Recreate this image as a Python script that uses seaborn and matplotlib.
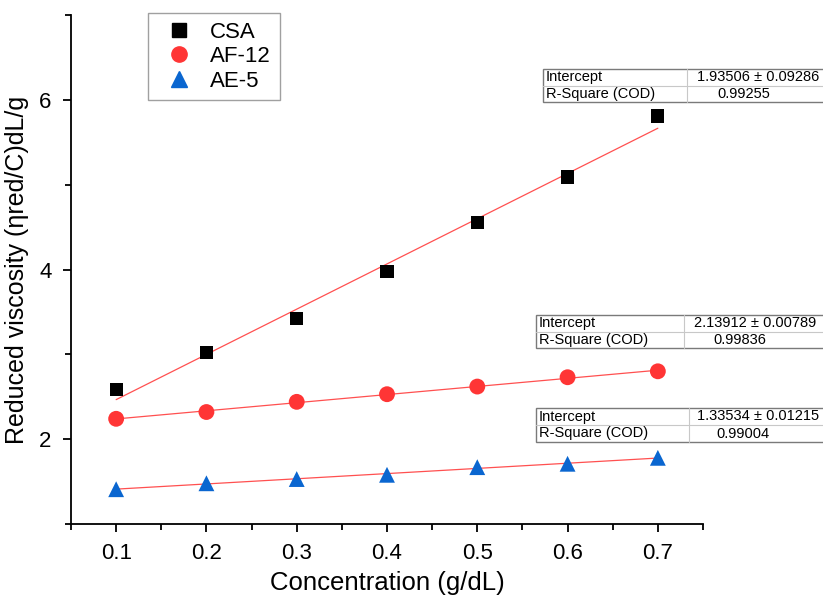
import numpy as np
import pandas as pd
import matplotlib
matplotlib.use("Agg")
import matplotlib.pyplot as plt
import seaborn as sns
from matplotlib.patches import Rectangle
from matplotlib.lines import Line2D

# Data
conc = [0.1, 0.2, 0.3, 0.4, 0.5, 0.6, 0.7]
csa = [2.59, 3.02, 3.42, 3.98, 4.55, 5.09, 5.81]
af12 = [2.24, 2.32, 2.44, 2.53, 2.62, 2.73, 2.80]
ae5 = [1.41, 1.48, 1.53, 1.58, 1.67, 1.71, 1.78]

series_names = ['CSA', 'AF-12', 'AE-5']
series_values = [csa, af12, ae5]
series_colors = ['#000000', '#ff3535', '#0a66d0']
series_markers = ['s', 'o', '^']
marker_sizes = [90, 130, 130]

x_ticks = [0.1, 0.2, 0.3, 0.4, 0.5, 0.6, 0.7]
y_ticks = [2, 4, 6]

# fit tables (Origin style)
table_labels = ['Intercept', 'R-Square (COD)']
table_values = [['1.93506 ± 0.09286', '0.99255'],
                ['2.13912 ± 0.00789', '0.99836'],
                ['1.33534 ± 0.01215', '0.99004']]

df = pd.DataFrame({
    'conc': conc * 3,
    'value': csa + af12 + ae5,
    'sample': sum([[n] * len(conc) for n in series_names], []),
})

sns.set_style("ticks")
plt.rcParams['font.family'] = ['Liberation Sans', 'DejaVu Sans']
plt.rcParams['text.color'] = 'black'

W, H = 823, 603
fig = plt.figure(figsize=(W / 100, H / 100), dpi=100)
ax = fig.add_axes([71 / W, 1 - 524 / H, 632 / W, 509 / H])

# linear fits, thin red lines
for name in series_names:
    sub = df[df['sample'] == name]
    sns.regplot(data=sub, x='conc', y='value', ax=ax, scatter=False, ci=None,
                truncate=True, line_kws=dict(color='#ff5050', lw=0.9))

for name, color, mk, ms in zip(series_names, series_colors, series_markers, marker_sizes):
    sub = df[df['sample'] == name]
    sns.scatterplot(data=sub, x='conc', y='value', ax=ax, color=color, marker=mk,
                    s=ms, edgecolor='none', zorder=3)

ax.set_xlim(0.05, 0.75)
ax.set_ylim(1, 7)
ax.set_xticks(x_ticks)
ax.set_xticks(np.arange(0.05, 0.76, 0.1), minor=True)
ax.set_yticks(y_ticks)
ax.set_yticks([1, 3, 5, 7], minor=True)
ax.set_xticklabels([f'{t:.1f}' for t in x_ticks])
ax.tick_params(axis='both', which='major', direction='out', length=6, width=1.3,
               labelsize=16, color='black', labelcolor='black', pad=8)
ax.tick_params(axis='both', which='minor', direction='out', length=4, width=1.3, color='black')
for side in ['top', 'right']:
    ax.spines[side].set_visible(False)
for side in ['left', 'bottom']:
    ax.spines[side].set_linewidth(1.3)
    ax.spines[side].set_color('black')

ax.set_xlabel('Concentration (g/dL)', fontsize=18.5, labelpad=5, color='black')
ax.set_ylabel('Reduced viscosity (ηred/C)dL/g', fontsize=18, labelpad=7, color='black')

handles = [Line2D([], [], ls='none', marker=mk, color=c, markersize=10 if mk == 's' else 11)
           for mk, c in zip(series_markers, series_colors)]
leg = ax.legend(handles, series_names, loc='upper left', bbox_to_anchor=(148 / W, 1 - 13 / H),
                bbox_transform=fig.transFigure, fontsize=16, frameon=True, fancybox=False,
                edgecolor='#888888', handletextpad=0.4, borderpad=0.4, labelspacing=0.15,
                handlelength=2.0, borderaxespad=0)
leg.get_frame().set_linewidth(1.0)


def px(x, y):
    return x / W, 1 - y / H


def draw_table(left, top, divider, row_h, vals, r2_center, int_center):
    right = W + 5
    tr = fig.transFigure
    bottom = top + 2 * row_h
    x0, y0 = px(left, bottom)
    fig.add_artist(Rectangle((x0, y0), (right - left) / W, 2 * row_h / H, transform=tr,
                             facecolor='white', edgecolor='#7a7a7a', lw=1.0, zorder=5))
    fig.add_artist(Line2D([left / W, right / W], [1 - (top + row_h) / H] * 2, transform=tr,
                          color='#c8c8c8', lw=0.8, zorder=6))
    fig.add_artist(Line2D([divider / W] * 2, [1 - top / H, 1 - bottom / H], transform=tr,
                          color='#c8c8c8', lw=0.8, zorder=6))
    for i, lab in enumerate(table_labels):
        yc = 1 - (top + row_h * (i + 0.5)) / H
        fig.text((left + 3) / W, yc, lab, fontsize=10.5, va='center', ha='left', zorder=7)
    fig.text(int_center / W, 1 - (top + row_h * 0.5) / H, vals[0], fontsize=10.5,
             va='center', ha='center', zorder=7)
    fig.text(r2_center / W, 1 - (top + row_h * 1.5) / H, vals[1], fontsize=10.5,
             va='center', ha='center', zorder=7)


draw_table(543, 69, 687, 16.5, table_values[0], 744, 758)
draw_table(536, 315, 684, 16.5, table_values[1], 740, 755)
draw_table(536, 408, 689, 17, table_values[2], 743, 758)

fig.savefig('out.png', dpi=100)
